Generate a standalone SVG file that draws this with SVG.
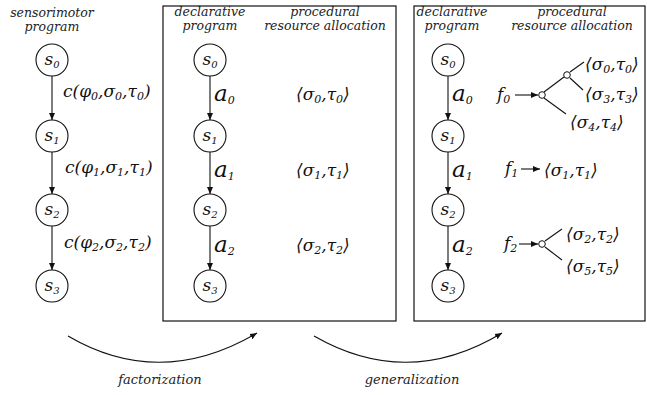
<svg xmlns="http://www.w3.org/2000/svg" width="647" height="395" viewBox="0 0 647 395">
<style>
.hd{font-family:"DejaVu Serif","Liberation Serif",serif;font-style:italic;font-size:12.5px;fill:#222;text-anchor:middle}
.st{fill:#fff;stroke:#111;stroke-width:1.1}
.lb{font-family:"DejaVu Serif","Liberation Serif",serif;font-style:italic;font-size:17px;fill:#111}
.big{font-family:"DejaVu Serif","Liberation Serif",serif;font-style:italic;font-size:23px;fill:#111}
.sl{font-family:"DejaVu Serif","Liberation Serif",serif;font-style:italic;font-size:17px;fill:#111;text-anchor:middle}
.ln{fill:none;stroke:#111;stroke-width:1.1}
.bx{fill:none;stroke:#111;stroke-width:1.2}
.sm{fill:#fff;stroke:#111;stroke-width:1}
.cp{font-family:"DejaVu Serif","Liberation Serif",serif;font-style:italic;font-size:13px;fill:#222;text-anchor:middle}
.sb{font-size:11px}
.ss{font-size:10px}
</style>
<defs>
<marker id="ah" markerWidth="8" markerHeight="8" refX="7" refY="4" orient="auto" markerUnits="userSpaceOnUse">
<path d="M0,1 L7,4 L0,7 Z" fill="#111"/>
</marker>
</defs>
<g id="boxes">
<rect class="bx" x="163" y="6" width="233" height="315"/>
<rect class="bx" x="414" y="6" width="231" height="315"/>
</g>
<g id="headers">
<text class="hd" x="52" y="17">sensorimotor</text>
<text class="hd" x="52" y="31">program</text>
<text class="hd" x="210" y="16">declarative</text>
<text class="hd" x="210" y="30">program</text>
<text class="hd" x="325" y="16">procedural</text>
<text class="hd" x="325" y="30">resource allocation</text>
<text class="hd" x="452" y="16">declarative</text>
<text class="hd" x="452" y="30">program</text>
<text class="hd" x="572" y="16">procedural</text>
<text class="hd" x="572" y="30">resource allocation</text>
</g>
<g id="connectors">
<line class="ln" x1="52" y1="76" x2="52" y2="120" marker-end="url(#ah)"/>
<line class="ln" x1="52" y1="152" x2="52" y2="194" marker-end="url(#ah)"/>
<line class="ln" x1="52" y1="226" x2="52" y2="270" marker-end="url(#ah)"/>
<line class="ln" x1="210" y1="76" x2="210" y2="120" marker-end="url(#ah)"/>
<line class="ln" x1="210" y1="152" x2="210" y2="194" marker-end="url(#ah)"/>
<line class="ln" x1="210" y1="226" x2="210" y2="270" marker-end="url(#ah)"/>
<line class="ln" x1="448" y1="76" x2="448" y2="120" marker-end="url(#ah)"/>
<line class="ln" x1="448" y1="152" x2="448" y2="194" marker-end="url(#ah)"/>
<line class="ln" x1="448" y1="226" x2="448" y2="270" marker-end="url(#ah)"/>
<line class="ln" x1="515" y1="95" x2="538" y2="95" marker-end="url(#ah)"/>
<line class="ln" x1="544" y1="92" x2="564" y2="77"/>
<line class="ln" x1="544" y1="98" x2="566" y2="114"/>
<line class="ln" x1="570" y1="72" x2="584" y2="62"/>
<line class="ln" x1="570" y1="78" x2="583" y2="90"/>
<line class="ln" x1="521" y1="169" x2="540" y2="169" marker-end="url(#ah)"/>
<line class="ln" x1="519" y1="244" x2="538" y2="244" marker-end="url(#ah)"/>
<line class="ln" x1="545" y1="241" x2="562" y2="229"/>
<line class="ln" x1="545" y1="247" x2="562" y2="260"/>
<path class="ln" d="M68,336 Q160,390 257,333" marker-end="url(#ah)"/>
<path class="ln" d="M314,336 Q408,390 502,333" marker-end="url(#ah)"/>
</g>
<g id="junctions">
<circle class="sm" cx="542" cy="95" r="3.3"/>
<circle class="sm" cx="567" cy="75" r="3.3"/>
<circle class="sm" cx="542" cy="244" r="3.3"/>
</g>
<g id="sm-s0"><circle class="st" cx="52" cy="60" r="16"/><text class="sl" x="52" y="65">s<tspan class="ss" dy="3">0</tspan></text></g>
<g id="sm-s1"><circle class="st" cx="52" cy="136" r="16"/><text class="sl" x="52" y="141">s<tspan class="ss" dy="3">1</tspan></text></g>
<g id="sm-s2"><circle class="st" cx="52" cy="210" r="16"/><text class="sl" x="52" y="215">s<tspan class="ss" dy="3">2</tspan></text></g>
<g id="sm-s3"><circle class="st" cx="52" cy="286" r="16"/><text class="sl" x="52" y="291">s<tspan class="ss" dy="3">3</tspan></text></g>
<g id="d-s0"><circle class="st" cx="210" cy="60" r="16"/><text class="sl" x="210" y="65">s<tspan class="ss" dy="3">0</tspan></text></g>
<g id="d-s1"><circle class="st" cx="210" cy="136" r="16"/><text class="sl" x="210" y="141">s<tspan class="ss" dy="3">1</tspan></text></g>
<g id="d-s2"><circle class="st" cx="210" cy="210" r="16"/><text class="sl" x="210" y="215">s<tspan class="ss" dy="3">2</tspan></text></g>
<g id="d-s3"><circle class="st" cx="210" cy="286" r="16"/><text class="sl" x="210" y="291">s<tspan class="ss" dy="3">3</tspan></text></g>
<g id="g-s0"><circle class="st" cx="448" cy="60" r="16"/><text class="sl" x="448" y="65">s<tspan class="ss" dy="3">0</tspan></text></g>
<g id="g-s1"><circle class="st" cx="448" cy="136" r="16"/><text class="sl" x="448" y="141">s<tspan class="ss" dy="3">1</tspan></text></g>
<g id="g-s2"><circle class="st" cx="448" cy="210" r="16"/><text class="sl" x="448" y="215">s<tspan class="ss" dy="3">2</tspan></text></g>
<g id="g-s3"><circle class="st" cx="448" cy="286" r="16"/><text class="sl" x="448" y="291">s<tspan class="ss" dy="3">3</tspan></text></g>
<g id="labels">
<text class="lb" x="63" y="97">c(φ<tspan class="sb" dy="3">0</tspan><tspan dy="-3">,σ</tspan><tspan class="sb" dy="3">0</tspan><tspan dy="-3">,τ</tspan><tspan class="sb" dy="3">0</tspan><tspan dy="-3">)</tspan></text>
<text class="lb" x="65" y="173">c(φ<tspan class="sb" dy="3">1</tspan><tspan dy="-3">,σ</tspan><tspan class="sb" dy="3">1</tspan><tspan dy="-3">,τ</tspan><tspan class="sb" dy="3">1</tspan><tspan dy="-3">)</tspan></text>
<text class="lb" x="64" y="248">c(φ<tspan class="sb" dy="3">2</tspan><tspan dy="-3">,σ</tspan><tspan class="sb" dy="3">2</tspan><tspan dy="-3">,τ</tspan><tspan class="sb" dy="3">2</tspan><tspan dy="-3">)</tspan></text>
<text class="big" x="214" y="101">a<tspan class="sb" dy="3">0</tspan></text>
<text class="big" x="214" y="177">a<tspan class="sb" dy="3">1</tspan></text>
<text class="big" x="214" y="252">a<tspan class="sb" dy="3">2</tspan></text>
<text class="lb" x="296" y="100">⟨σ<tspan class="sb" dy="3">0</tspan><tspan dy="-3">,τ</tspan><tspan class="sb" dy="3">0</tspan><tspan dy="-3">⟩</tspan></text>
<text class="lb" x="296" y="176">⟨σ<tspan class="sb" dy="3">1</tspan><tspan dy="-3">,τ</tspan><tspan class="sb" dy="3">1</tspan><tspan dy="-3">⟩</tspan></text>
<text class="lb" x="296" y="251">⟨σ<tspan class="sb" dy="3">2</tspan><tspan dy="-3">,τ</tspan><tspan class="sb" dy="3">2</tspan><tspan dy="-3">⟩</tspan></text>
<text class="big" x="452" y="101">a<tspan class="sb" dy="3">0</tspan></text>
<text class="big" x="452" y="177">a<tspan class="sb" dy="3">1</tspan></text>
<text class="big" x="452" y="252">a<tspan class="sb" dy="3">2</tspan></text>
<text class="lb" x="497" y="100">f<tspan class="sb" dy="3">0</tspan></text>
<text class="lb" x="505" y="174">f<tspan class="sb" dy="3">1</tspan></text>
<text class="lb" x="504" y="249">f<tspan class="sb" dy="3">2</tspan></text>
<text class="lb" x="585" y="70">⟨σ<tspan class="sb" dy="3">0</tspan><tspan dy="-3">,τ</tspan><tspan class="sb" dy="3">0</tspan><tspan dy="-3">⟩</tspan></text>
<text class="lb" x="585" y="100">⟨σ<tspan class="sb" dy="3">3</tspan><tspan dy="-3">,τ</tspan><tspan class="sb" dy="3">3</tspan><tspan dy="-3">⟩</tspan></text>
<text class="lb" x="570" y="128">⟨σ<tspan class="sb" dy="3">4</tspan><tspan dy="-3">,τ</tspan><tspan class="sb" dy="3">4</tspan><tspan dy="-3">⟩</tspan></text>
<text class="lb" x="544" y="176">⟨σ<tspan class="sb" dy="3">1</tspan><tspan dy="-3">,τ</tspan><tspan class="sb" dy="3">1</tspan><tspan dy="-3">⟩</tspan></text>
<text class="lb" x="566" y="240">⟨σ<tspan class="sb" dy="3">2</tspan><tspan dy="-3">,τ</tspan><tspan class="sb" dy="3">2</tspan><tspan dy="-3">⟩</tspan></text>
<text class="lb" x="566" y="272">⟨σ<tspan class="sb" dy="3">5</tspan><tspan dy="-3">,τ</tspan><tspan class="sb" dy="3">5</tspan><tspan dy="-3">⟩</tspan></text>
</g>
<g id="captions">
<text class="cp" x="160" y="384">factorization</text>
<text class="cp" x="412" y="384">generalization</text>
</g>
</svg>
